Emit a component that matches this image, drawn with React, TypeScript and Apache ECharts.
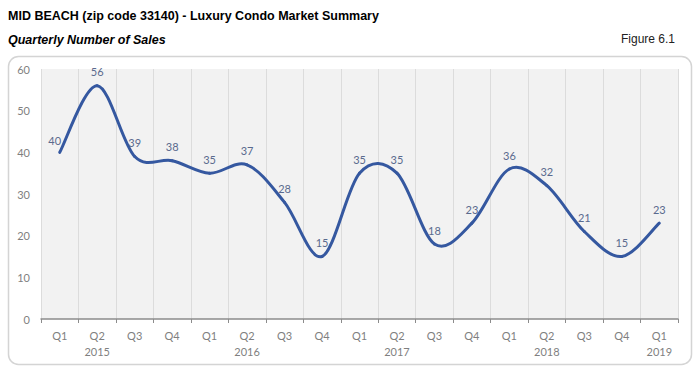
import React, { useEffect, useRef } from "react";
import * as echarts from "echarts";

const quarters = ["Q1", "Q2", "Q3", "Q4", "Q1", "Q2", "Q3", "Q4", "Q1", "Q2", "Q3", "Q4", "Q1", "Q2", "Q3", "Q4", "Q1"];
const yearLabels = ["", "2015", "", "", "", "2016", "", "", "", "2017", "", "", "", "2018", "", "", "2019"];
const sales = [40, 56, 39, 38, 35, 37, 28, 15, 35, 35, 18, 23, 36, 32, 21, 15, 23];
const yTicks = [0, 10, 20, 30, 40, 50, 60];

const titleText = "MID BEACH (zip code 33140) - Luxury Condo Market Summary";
const subtitleText = "Quarterly Number of Sales";
const figureText = "Figure 6.1";

const LINE_COLOR = "#3558a0";

export default function App() {
  const ref = useRef<HTMLDivElement>(null);
  useEffect(() => {
    document.body.style.margin = "0";
    const chart = echarts.init(ref.current!, null, { renderer: "svg" });
    const categories = quarters.map((q, i) => (yearLabels[i] ? q + "\n" + yearLabels[i] : q));
    const n = sales.length;

    // Smoothed curve segment (Catmull-Rom style, like a spreadsheet's smoothed line),
    // computed from the data points projected through the chart's own scales.
    const renderSegment = (params: any, api: any) => {
      const i = params.dataIndex;
      if (i >= n - 1) return null;
      const pt = (j: number) => {
        const k = Math.max(0, Math.min(n - 1, j));
        return api.coord([k, sales[k]]);
      };
      const p0 = pt(i - 1);
      const p1 = pt(i);
      const p2 = pt(i + 1);
      const p3 = pt(i + 2);
      const c1 = [p1[0] + (p2[0] - p0[0]) / 6, p1[1] + (p2[1] - p0[1]) / 6];
      const c2 = [p2[0] - (p3[0] - p1[0]) / 6, p2[1] - (p3[1] - p1[1]) / 6];
      return {
        type: "bezierCurve",
        shape: {
          x1: p1[0],
          y1: p1[1],
          cpx1: c1[0],
          cpy1: c1[1],
          cpx2: c2[0],
          cpy2: c2[1],
          x2: p2[0],
          y2: p2[1],
        },
        style: { stroke: LINE_COLOR, lineWidth: 3, fill: "none", lineCap: "round" },
        silent: true,
      };
    };

    chart.setOption({
      animation: false,
      backgroundColor: "#ffffff",
      graphic: [
        {
          type: "rect",
          shape: { x: 8.5, y: 56.5, width: 683, height: 308, r: 10 },
          style: { fill: "#ffffff", stroke: "#d4d4d4", lineWidth: 1.5 },
          z: -10,
        },
        {
          type: "text",
          x: 8,
          y: 9,
          style: { text: titleText, font: "bold 12.5px 'Liberation Sans', Arial, sans-serif", fill: "#000000" },
        },
        {
          type: "text",
          x: 8,
          y: 33,
          style: { text: subtitleText, font: "italic bold 12.5px 'Liberation Sans', Arial, sans-serif", fill: "#000000" },
        },
        {
          type: "text",
          x: 675,
          y: 33,
          style: { text: figureText, font: "12px 'Liberation Sans', Arial, sans-serif", fill: "#222222", align: "right" },
        },
      ],
      grid: {
        left: 41,
        right: 21,
        top: 69,
        bottom: 68,
        show: true,
        backgroundColor: "#f2f2f2",
        borderWidth: 0,
      },
      xAxis: {
        type: "category",
        data: categories,
        boundaryGap: true,
        axisLine: { show: true, lineStyle: { color: "#8c8c8c", width: 1.5 } },
        axisTick: { show: true, alignWithLabel: false, length: 4, lineStyle: { color: "#8c8c8c" } },
        splitLine: { show: true, lineStyle: { color: "#dcdcdc", width: 1 } },
        axisLabel: {
          color: "#7f7f7f",
          fontFamily: "Lato, 'Open Sans', sans-serif",
          fontSize: 11,
          lineHeight: 16,
          margin: 8,
          interval: 0,
        },
      },
      yAxis: {
        type: "value",
        min: 0,
        max: 60,
        interval: 10,
        axisLine: { show: false },
        axisTick: { show: false },
        splitLine: { show: false },
        axisLabel: {
          color: "#7f7f7f",
          fontFamily: "Lato, 'Open Sans', sans-serif",
          fontSize: 11,
          margin: 11,
          formatter: (v: number) => (yTicks.includes(v) ? String(v) : ""),
        },
      },
      series: [
        {
          type: "custom",
          data: sales.map((v, i) => [i, v]),
          renderItem: renderSegment,
          z: 2,
        },
        {
          type: "line",
          data: sales.map((v, i) => ({
            value: v,
            label: i === 0 ? { offset: [-5, 2] } : undefined,
          })),
          symbol: "circle",
          symbolSize: 1,
          showSymbol: true,
          itemStyle: { color: "rgba(0,0,0,0)" },
          lineStyle: { width: 0, opacity: 0 },
          z: 3,
          label: {
            show: true,
            position: "top",
            distance: 8,
            color: "#5a6a8e",
            fontFamily: "Lato, 'Open Sans', sans-serif",
            fontSize: 11,
          },
        },
      ],
    });
    return () => chart.dispose();
  }, []);
  return <div ref={ref} style={{ width: 699, height: 387 }} />;
}
